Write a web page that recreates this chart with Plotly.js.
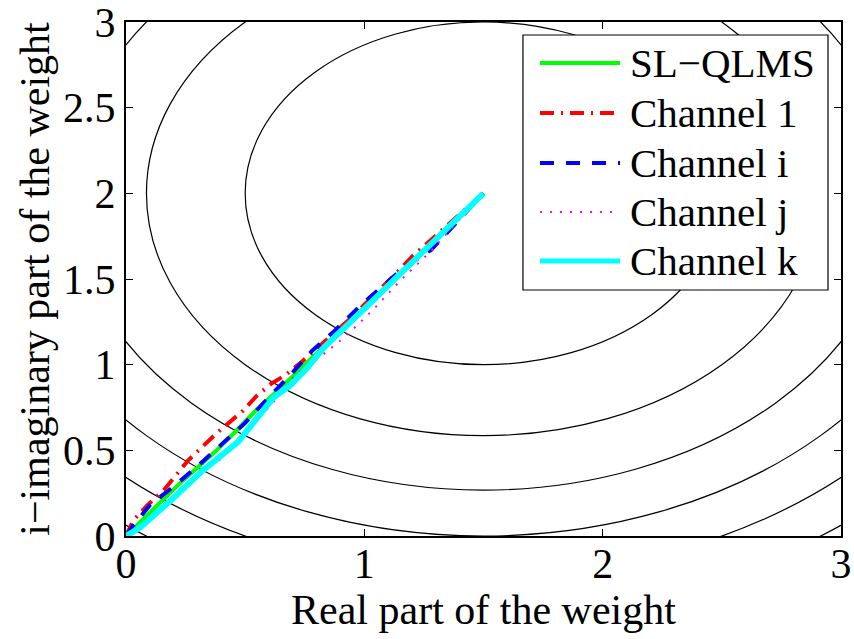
<!DOCTYPE html>
<html>
<head>
<meta charset="utf-8">
<script src="https://cdn.plot.ly/plotly-3.0.1.min.js"></script>
<style>html,body{margin:0;padding:0;background:#fff;}#chart{width:854px;height:639px;}</style>
</head>
<body>
<div id="chart"></div>
<script>
// Contour levels of the cost surface (circles around the optimum weight)
const contourLevels = [1, 2, 3, 4, 5, 6];
const optimum = [1.5, 2];

// Weight trajectories (real part, i-imaginary part)
const slqlmsX = [0, 0.05, 0.10, 0.16, 0.22, 0.30, 0.38, 0.46, 0.55, 0.63, 0.72, 0.80, 0.90, 1.00, 1.10, 1.20, 1.30, 1.40, 1.50];
const slqlmsY = [0, 0.07, 0.14, 0.22, 0.30, 0.40, 0.50, 0.61, 0.74, 0.84, 0.96, 1.07, 1.20, 1.33, 1.47, 1.60, 1.73, 1.87, 2.00];

const ch1X = [0, 0.03, 0.09, 0.16, 0.26, 0.38, 0.49, 0.55, 0.61, 0.67, 0.74, 0.85, 0.95, 1.05, 1.11, 1.20, 1.32, 1.44, 1.50];
const ch1Y = [0, 0.09, 0.18, 0.27, 0.44, 0.60, 0.73, 0.82, 0.89, 0.94, 1.02, 1.16, 1.28, 1.42, 1.50, 1.63, 1.78, 1.93, 2.00];

const chiX = [0, 0.03, 0.10, 0.21, 0.31, 0.41, 0.50, 0.60, 0.69, 0.78, 0.87, 0.98, 1.08, 1.16, 1.28, 1.38, 1.50];
const chiY = [0, 0.06, 0.18, 0.30, 0.42, 0.55, 0.66, 0.81, 0.94, 1.08, 1.19, 1.34, 1.46, 1.56, 1.67, 1.82, 2.00];

const chjX = [0, 0.06, 0.15, 0.27, 0.39, 0.46, 0.56, 0.63, 0.71, 0.81, 0.89, 0.97, 1.05, 1.15, 1.27, 1.39, 1.50];
const chjY = [0, 0.06, 0.17, 0.33, 0.44, 0.55, 0.69, 0.80, 0.94, 1.04, 1.13, 1.23, 1.34, 1.49, 1.65, 1.83, 2.00];

const chkX = [0, 0.06, 0.19, 0.32, 0.47, 0.56, 0.62, 0.69, 0.76, 0.83, 0.90, 1.04, 1.15, 1.27, 1.38, 1.50];
const chkY = [0, 0.05, 0.21, 0.38, 0.55, 0.70, 0.81, 0.88, 0.98, 1.10, 1.19, 1.38, 1.53, 1.69, 1.84, 2.00];

const seriesNames = ['SL\u2212QLMS', 'Channel 1', 'Channel i', 'Channel j', 'Channel k'];

const xTicks = [0, 1, 2, 3];
const yTicks = [0, 0.5, 1, 1.5, 2, 2.5, 3];
const yTickText = ['0', '0.5', '1', '1.5', '2', '2.5', '3'];

const FONT = 'Liberation Serif';

const lineStyles = [
  {color: '#00ff00', width: 4},
  {color: '#ff0000', width: 4, dash: '14px,7px,2px,7px'},
  {color: '#0000ff', width: 4, dash: '14px,12px'},
  {color: '#ff00ff', width: 2, dash: '2px,8px'},
  {color: '#00ffff', width: 6}
];

const xs = [slqlmsX, ch1X, chiX, chjX, chkX];
const ys = [slqlmsY, ch1Y, chiY, chjY, chkY];

const traces = xs.map(function (x, i) {
  return {x: x, y: ys[i], name: seriesNames[i], mode: 'lines', line: lineStyles[i], showlegend: false};
});

// contour circles drawn in data coordinates
const shapes = contourLevels.map(function (lv) {
  const r = Math.sqrt(lv);
  return {
    type: 'circle', xref: 'x', yref: 'y', layer: 'below',
    x0: optimum[0] - r, x1: optimum[0] + r,
    y0: optimum[1] - r, y1: optimum[1] + r,
    line: {color: '#000', width: 1.2}
  };
});

// legend box (MATLAB style), placed in paper coordinates
const legBox = {x0: 0.5552, x1: 0.9818, y0: 0.4786, y1: 0.9747};
const legRows = [0.9202, 0.8230, 0.7257, 0.6304, 0.5350];
const legLineX = [0.579, 0.691];
const legTextX = 0.7021;
shapes.push({type: 'rect', xref: 'paper', yref: 'paper', layer: 'above',
  x0: legBox.x0, x1: legBox.x1, y0: legBox.y0, y1: legBox.y1,
  fillcolor: '#fff', line: {color: '#000', width: 1.2}});
const annotations = [];
seriesNames.forEach(function (nm, i) {
  const st = lineStyles[i];
  shapes.push({type: 'line', xref: 'paper', yref: 'paper', layer: 'above',
    x0: legLineX[0], x1: legLineX[1], y0: legRows[i], y1: legRows[i],
    line: {color: st.color, width: st.width === 6 ? 5 : st.width, dash: st.dash || 'solid'}});
  annotations.push({xref: 'paper', yref: 'paper', x: legTextX, y: legRows[i],
    xanchor: 'left', yanchor: 'middle', showarrow: false, text: nm,
    font: {family: FONT, size: 41, color: '#000'}});
});

function axis(extra) {
  return Object.assign({
    showgrid: false, zeroline: false, showline: true, mirror: 'ticks',
    linecolor: '#000', linewidth: 2, ticks: 'inside', ticklen: 7, tickwidth: 1, tickcolor: '#000',
    tickfont: {family: FONT, size: 42, color: '#000'}, fixedrange: true,
    ticklabeloverflow: 'allow', automargin: false
  }, extra);
}

const layout = {
  width: 854, height: 639,
  margin: {l: 126, r: 13, t: 22, b: 103},
  paper_bgcolor: '#fff', plot_bgcolor: '#fff',
  font: {family: FONT, size: 42, color: '#000'},
  showlegend: false,
  xaxis: axis({
    range: [0, 3], tickvals: xTicks, ticktext: xTicks.map(String), ticklabelstandoff: -10,
    title: {text: 'Real part of the weight', font: {family: FONT, size: 42, color: '#000'}, standoff: 0}
  }),
  yaxis: axis({
    range: [0, 3], tickvals: yTicks, ticktext: yTickText,
    title: {text: 'i\u2212imaginary part of the weight', font: {family: FONT, size: 42, color: '#000'}, standoff: 0}
  }),
  shapes: shapes,
  annotations: annotations
};

Plotly.newPlot('chart', traces, layout, {displayModeBar: false, staticPlot: true});
</script>
</body>
</html>
